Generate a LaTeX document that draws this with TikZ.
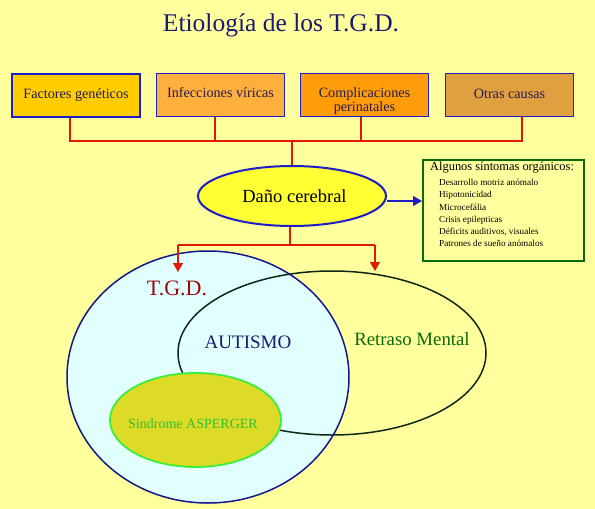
\documentclass[tikz,border=0pt]{standalone}
\usepackage{fontspec}
\setmainfont{Liberation Serif}
\usetikzlibrary{shapes.geometric,arrows.meta}
\definecolor{bg}{HTML}{FFFF9E}
\definecolor{navy}{HTML}{1A1A6E}
\definecolor{boxtext}{HTML}{251A50}
\definecolor{boxblue}{HTML}{1E1EC8}
\definecolor{redline}{HTML}{E01A0A}
\definecolor{cA}{HTML}{FFCC00}
\definecolor{cB}{HTML}{FFAF3C}
\definecolor{cC}{HTML}{FF9C0A}
\definecolor{cD}{HTML}{E0A040}
\definecolor{dgreen}{HTML}{0A6A0A}
\definecolor{cyanfill}{HTML}{E2FFFF}
\definecolor{aspfill}{HTML}{DDDA28}
\definecolor{aspline}{HTML}{3CEE3C}
\definecolor{tgdred}{HTML}{9A0A0A}
\newcommand{\shiftup}[2]{\raisebox{#1}[\height][\depth]{#2}}
\tikzset{
  cause/.style={draw=boxblue, line width=1.8pt, minimum width=128pt, minimum height=43pt,
    inner sep=2pt, align=center, text=boxtext, font=\fontsize{14.2}{14}\selectfont},
  redcon/.style={draw=redline, line width=2.8pt},
  redarrow/.style={draw=redline, line width=1.4pt, -{Triangle[length=9pt,width=10pt]}},
}
\begin{document}
\begin{tikzpicture}[x=1pt,y=-1pt]
\useasboundingbox[fill=bg] (0,0) rectangle (595,509);
\node[text=navy, font=\fontsize{25.5}{28}\selectfont] (title) at (281,25) {Etiología de los T.G.D.};
\node[cause, fill=cA] (f1) at (76,95.5) {Factores genéticos};
\node[cause, fill=cB] (f2) at (220.5,95) {\shiftup{2pt}{Infecciones víricas}};
\node[cause, fill=cC] (f3) at (364.5,95) {\shiftup{-7pt}{\begin{tabular}{@{}c@{}}Complicaciones\\perinatales\end{tabular}}};
\node[cause, fill=cD] (f4) at (509.5,95) {\shiftup{1pt}{Otras causas}};
\coordinate (j1) at (70,141);
\coordinate (j2) at (215,141);
\coordinate (j3) at (361,141);
\coordinate (j4) at (522,141);
\coordinate (jm) at (292,141);
\node[ellipse, draw=boxblue, line width=2pt, fill={rgb,255:red,255;green,255;blue,51},
  minimum width=188pt, minimum height=60pt, inner sep=0pt,
  font=\fontsize{18.5}{20}\selectfont] (dano) at (292,196) {\hspace{5pt}Daño cerebral};
\draw[redcon] (f1.south -| j1) -- (j1) -- (j4) -- (f4.south -| j4);
\draw[redcon] (f2.south -| j2) -- (j2);
\draw[redcon] (f3.south -| j3) -- (j3);
\draw[redcon] (jm) -- (dano.north);
% symptoms box
\node[draw=dgreen, line width=1.8pt, minimum width=161pt, minimum height=101pt, anchor=north west,
  inner sep=0pt] (sint) at (422,159) {};
\node[anchor=base west, font=\fontsize{12.4}{13}\selectfont, inner sep=0pt] (sh) at (430,170) {Algunos síntomas orgánicos:};
\node[anchor=north west, font=\fontsize{9.2}{12.2}\selectfont, align=left, inner sep=0pt] (sl) at (439,179)
 {Desarrollo motriz anómalo\\Hipotonicidad\\Microcefália\\Crisis epilepticas\\Déficits auditivos, visuales\\Patrones de sueño anómalos};
\draw[draw=boxblue, line width=1.4pt, -{Triangle[length=9pt,width=10pt]}] (dano.east |- 0,201) -- (sint.west |- 0,201);
% Venn
\node[ellipse, fill=cyanfill, minimum width=282pt, minimum height=252pt, inner sep=0pt] (tgd) at (208,377) {};
\node[ellipse, draw={rgb,255:red,15;green,40;blue,20}, line width=1.5pt, minimum width=308pt, minimum height=164pt, inner sep=0pt] (rm) at (332,353) {};
\node[ellipse, draw=boxblue!70!black, line width=1.5pt, minimum width=282pt, minimum height=252pt, inner sep=0pt] (tgdb) at (208,377) {};
\node[ellipse, draw=aspline, fill=aspfill, line width=1.8pt, minimum width=171pt, minimum height=94pt, inner sep=0pt] (asp) at (195.5,420) {};
\node[text=aspline!80!black, font=\fontsize{14}{15}\selectfont] (asptxt) at (193,424) {Sindrome ASPERGER};
\node[text=tgdred, font=\fontsize{22}{24}\selectfont] (tgdtxt) at (177,288) {T.G.D.};
\node[text=navy, font=\fontsize{19}{21}\selectfont] (aut) at (248,342) {AUTISMO};
\node[text=dgreen, font=\fontsize{18.8}{21}\selectfont] (rmt) at (412,339) {Retraso Mental};
% lower red connectors
\coordinate (k0) at (290,245);
\coordinate (kl) at (178,245);
\coordinate (kr) at (375,245);
\coordinate (tl) at (178,272);
\coordinate (tr) at (375,271);
\draw[redcon] (dano.south -| k0) -- (k0);
\draw[redcon] (kl) -- (kr);
\draw[redarrow] (kl) -- (tl);
\draw[redarrow] (kr) -- (tr);
\end{tikzpicture}
\end{document}
